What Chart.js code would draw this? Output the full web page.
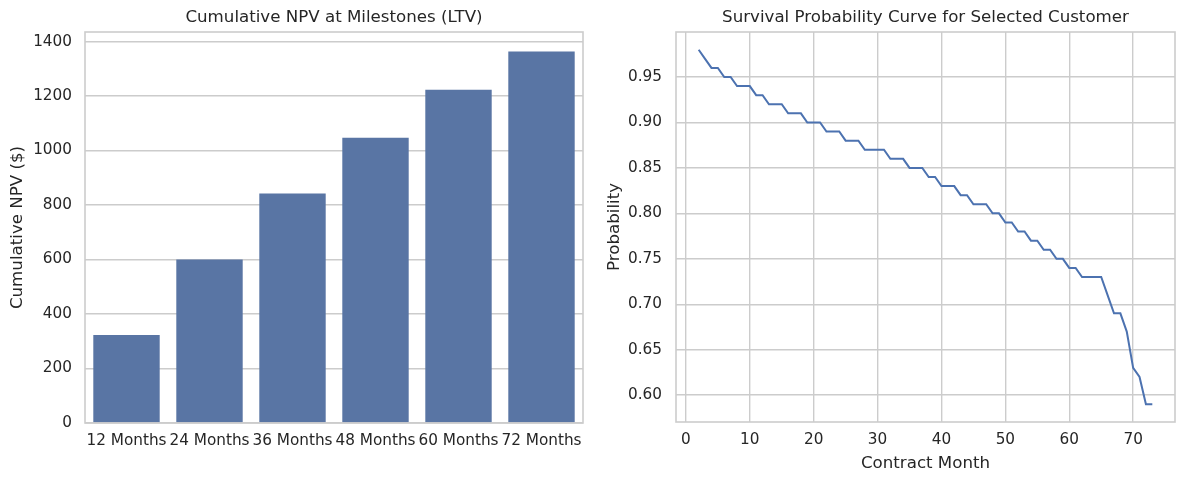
<!DOCTYPE html>
<html>
<head>
<meta charset="utf-8">
<script src="https://cdn.jsdelivr.net/npm/chart.js@4.4.1/dist/chart.umd.min.js"></script>
<style>
  body { margin: 0; background: #fff; }
  #wrap { position: relative; width: 1183px; height: 484px; }
  canvas { position: absolute; top: 0; }
</style>
</head>
<body>
<div id="wrap">
  <canvas id="npvChart" width="600" height="484" style="left:0"></canvas>
  <canvas id="survivalChart" width="583" height="484" style="left:600px"></canvas>
</div>
<script>
// NPV milestones (left chart)
const milestones = ['12 Months', '24 Months', '36 Months', '48 Months', '60 Months', '72 Months'];
const cumulativeNpv = [323, 600, 842, 1047, 1223, 1363];
const npvTicks = [0, 200, 400, 600, 800, 1000, 1200, 1400];

// survival curve (right chart)
const contractMonths = [2, 3, 4, 5, 6, 7, 8, 9, 10, 11, 12, 13, 14, 15, 16, 17, 18, 19, 20, 21,
  22, 23, 24, 25, 26, 27, 28, 29, 30, 31, 32, 33, 34, 35, 36, 37, 38, 39, 40, 41,
  42, 43, 44, 45, 46, 47, 48, 49, 50, 51, 52, 53, 54, 55, 56, 57, 58, 59, 60, 61,
  62, 63, 64, 65, 66, 67, 68, 69, 70, 71, 72, 73];
const survivalProb = [0.98, 0.97, 0.96, 0.96, 0.95, 0.95, 0.94, 0.94, 0.94, 0.93, 0.93, 0.92, 0.92, 0.92, 0.91, 0.91, 0.91, 0.90, 0.90, 0.90,
  0.89, 0.89, 0.89, 0.88, 0.88, 0.88, 0.87, 0.87, 0.87, 0.87, 0.86, 0.86, 0.86, 0.85, 0.85, 0.85, 0.84, 0.84, 0.83, 0.83,
  0.83, 0.82, 0.82, 0.81, 0.81, 0.81, 0.80, 0.80, 0.79, 0.79, 0.78, 0.78, 0.77, 0.77, 0.76, 0.76, 0.75, 0.75, 0.74, 0.74,
  0.73, 0.73, 0.73, 0.73, 0.71, 0.69, 0.69, 0.67, 0.63, 0.62, 0.59, 0.59];
const monthTicks = [0, 10, 20, 30, 40, 50, 60, 70];
const probTicks = [0.60, 0.65, 0.70, 0.75, 0.80, 0.85, 0.90, 0.95];

const textColor = '#262626';
const gridColor = '#cccccc';
Chart.defaults.font.family = '"DejaVu Sans", sans-serif';
Chart.defaults.color = textColor;
Chart.defaults.animation = false;

// matplotlib style frame round the plot area
const framePlugin = {
  id: 'frame',
  afterDraw(chart) {
    const a = chart.chartArea;
    const ctx = chart.ctx;
    ctx.save();
    ctx.strokeStyle = gridColor;
    ctx.lineWidth = 1.6;
    ctx.strokeRect(a.left, a.top, a.right - a.left, a.bottom - a.top);
    ctx.restore();
  }
};

function fixedTicks(values) {
  return function (scale) {
    scale.ticks = values.map(v => ({ value: v }));
  };
}

new Chart(document.getElementById('npvChart'), {
  type: 'bar',
  data: {
    labels: milestones,
    datasets: [{
      data: cumulativeNpv,
      backgroundColor: 'rgb(89, 117, 164)',
      categoryPercentage: 0.8,
      barPercentage: 1.0
    }]
  },
  options: {
    responsive: false,
    layout: { padding: { top: 8, right: 17, bottom: 0, left: 0 } },
    plugins: {
      legend: { display: false },
      tooltip: { enabled: false },
      title: {
        display: true,
        fullSize: false,
        text: 'Cumulative NPV at Milestones (LTV)',
        font: { size: 16.67, weight: 'normal' },
        color: textColor,
        padding: { top: 0, bottom: 4 }
      }
    },
    scales: {
      x: {
        afterFit(scale) { scale.height = 61; },
        grid: { display: false, drawTicks: false },
        border: { display: false },
        ticks: { font: { size: 15.28 }, color: textColor, padding: 9, maxRotation: 0, autoSkip: false }
      },
      y: {
        min: 0,
        max: 1435,
        afterBuildTicks: fixedTicks(npvTicks),
        afterFit(scale) { scale.width = 85; },
        grid: { color: gridColor, lineWidth: 1.4, drawTicks: false },
        border: { display: false },
        ticks: { font: { size: 15.28 }, color: textColor, padding: 13, callback: v => String(v) },
        title: {
          display: true,
          text: 'Cumulative NPV ($)',
          font: { size: 16.67 },
          color: textColor,
          padding: { top: 8, bottom: 0 }
        }
      }
    }
  },
  plugins: [framePlugin]
});

new Chart(document.getElementById('survivalChart'), {
  type: 'line',
  data: {
    datasets: [{
      data: contractMonths.map((m, i) => ({ x: m, y: survivalProb[i] })),
      borderColor: '#4c72b0',
      borderWidth: 2,
      pointRadius: 0,
      tension: 0,
      fill: false
    }]
  },
  options: {
    responsive: false,
    layout: { padding: { top: 8, right: 8, bottom: 10, left: 0 } },
    plugins: {
      legend: { display: false },
      tooltip: { enabled: false },
      title: {
        display: true,
        fullSize: false,
        text: 'Survival Probability Curve for Selected Customer',
        font: { size: 16.67, weight: 'normal' },
        color: textColor,
        padding: { top: 0, bottom: 4 }
      }
    },
    scales: {
      x: {
        type: 'linear',
        min: -1.55,
        max: 76.55,
        afterBuildTicks: fixedTicks(monthTicks),
        afterFit(scale) { scale.height = 52; },
        grid: { color: gridColor, lineWidth: 1.4, drawTicks: false },
        border: { display: false },
        ticks: { font: { size: 15.28 }, color: textColor, padding: 9, maxRotation: 0 },
        title: {
          display: true,
          text: 'Contract Month',
          font: { size: 16.67 },
          color: textColor,
          padding: { top: 5, bottom: 0 }
        }
      },
      y: {
        min: 0.5705,
        max: 0.9995,
        afterBuildTicks: fixedTicks(probTicks),
        afterFit(scale) { scale.width = 76; },
        grid: { color: gridColor, lineWidth: 1.4, drawTicks: false },
        border: { display: false },
        ticks: { font: { size: 15.28 }, color: textColor, padding: 14, callback: v => v.toFixed(2) },
        title: {
          display: true,
          text: 'Probability',
          font: { size: 16.67 },
          color: textColor,
          padding: { top: 5, bottom: 0 }
        }
      }
    }
  },
  plugins: [framePlugin]
});
</script>
</body>
</html>
